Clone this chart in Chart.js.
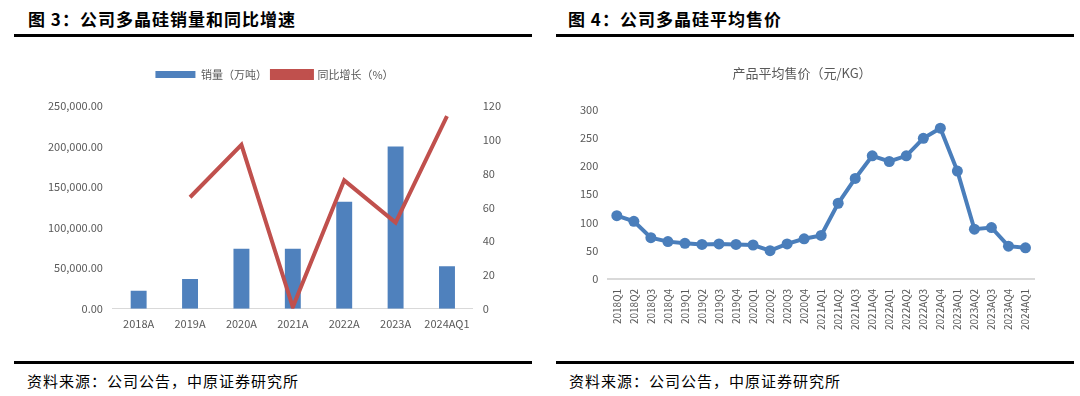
<!DOCTYPE html>
<html>
<head>
<meta charset="utf-8">
<script src="https://cdn.jsdelivr.net/npm/chart.js@4"></script>
<style>
  body { margin: 0; width: 1080px; height: 396px; background: #fff; position: relative; overflow: hidden;
         font-family: "Noto Sans CJK SC", "Noto Sans", sans-serif; }
  .head { position: absolute; top: 6px; font-size: 17px; font-weight: bold; color: #000; letter-spacing: 1px; }
  .rule { position: absolute; height: 3px; background: #000; }
  .foot { position: absolute; top: 370px; font-size: 15px; color: #000; letter-spacing: 1px; }
  .box { position: absolute; }
</style>
</head>
<body>
<div class="head" style="left:28px">图 3：公司多晶硅销量和同比增速</div>
<div class="rule" style="left:14px;width:518px;top:34px"></div>
<div class="head" style="left:568px">图 4：公司多晶硅平均售价</div>
<div class="rule" style="left:556px;width:518px;top:34px"></div>

<div class="box" style="left:14px;top:56px;width:519px;height:290px"><canvas id="sales-chart"></canvas></div>
<div class="box" style="left:556px;top:56px;width:518px;height:284px"><canvas id="price-chart"></canvas></div>

<div class="rule" style="left:14px;width:518px;top:361px"></div>
<div class="rule" style="left:556px;width:518px;top:361px"></div>
<div class="foot" style="left:27px">资料来源：公司公告，中原证券研究所</div>
<div class="foot" style="left:569px">资料来源：公司公告，中原证券研究所</div>

<script>
var years = ['2018A', '2019A', '2020A', '2021A', '2022A', '2023A', '2024AQ1'];
var salesVolume = [22200, 36800, 74000, 74000, 132000, 200000, 52600];
var yoyGrowth = [null, 66, 97, 1, 76, 51, 114];
var volumeTicks = [0, 50000, 100000, 150000, 200000, 250000];
var growthTicks = [0, 20, 40, 60, 80, 100, 120];

var quarters = ['2018Q1', '2018Q2', '2018Q3', '2018Q4', '2019Q1', '2019Q2', '2019Q3', '2019Q4',
  '2020Q1', '2020Q2', '2020Q3', '2020Q4', '2021AQ1', '2021AQ2', '2021AQ3', '2021AQ4',
  '2022AQ1', '2022AQ2', '2022AQ3', '2022AQ4', '2023AQ1', '2023AQ2', '2023AQ3', '2023AQ4', '2024AQ1'];
var avgPrice = [112, 102, 73, 66, 63, 61, 62, 61, 60, 50, 62, 71, 77, 134, 178, 218, 208, 218, 249, 267, 191, 88, 91, 58, 55];
var priceTicks = [0, 50, 100, 150, 200, 250, 300];

Chart.defaults.font.family = '"Noto Sans CJK SC", "Noto Sans", sans-serif';
Chart.defaults.color = '#595959';
Chart.defaults.animation = false;

// extra space under the legend
var legendGap = {
  id: 'legendGap',
  beforeInit: function (chart) {
    var fit = chart.legend.fit;
    chart.legend.fit = function () {
      fit.bind(chart.legend)();
      this.height += 16;
    };
  }
};

var ctx1 = document.querySelector('#sales-chart').getContext('2d');
var chart1 = new Chart(ctx1, {
  type: 'bar',
  data: {
    labels: years,
    datasets: [{
      label: '销量（万吨）',
      data: salesVolume,
      backgroundColor: 'rgb(79, 129, 189)',
      barPercentage: 0.31,
      categoryPercentage: 1,
      yAxisID: 'y',
      order: 2
    }, {
      type: 'line',
      label: '同比增长（%）',
      data: yoyGrowth,
      borderColor: 'rgb(192, 80, 77)',
      backgroundColor: 'rgb(192, 80, 77)',
      borderWidth: 4,
      pointRadius: 0,
      tension: 0,
      yAxisID: 'y1',
      order: 1
    }]
  },
  plugins: [legendGap],
  options: {
    responsive: true,
    maintainAspectRatio: false,
    layout: { padding: { left: 24, right: 22, top: 8, bottom: 8 } },
    plugins: {
      legend: {
        labels: {
          boxWidth: 40, boxHeight: 7, font: { size: 11 }, padding: 5,
          sort: function (a, b) { return a.datasetIndex - b.datasetIndex; }
        }
      },
      tooltip: { enabled: false }
    },
    scales: {
      x: {
        grid: { display: false, drawTicks: false },
        border: { color: '#d9d9d9', width: 1 },
        ticks: { font: { size: 11 }, padding: 8 }
      },
      y: {
        position: 'left',
        min: 0, max: 250000,
        afterBuildTicks: function (axis) { axis.ticks = volumeTicks.map(function (v) { return { value: v }; }); },
        grid: { display: false, drawTicks: false },
        border: { display: false },
        ticks: {
          font: { size: 11 }, padding: 10,
          callback: function (v) { return v.toLocaleString('en-US', { minimumFractionDigits: 2, maximumFractionDigits: 2 }); }
        }
      },
      y1: {
        position: 'right',
        min: 0, max: 120,
        afterBuildTicks: function (axis) { axis.ticks = growthTicks.map(function (v) { return { value: v }; }); },
        grid: { display: false, drawTicks: false },
        border: { display: false },
        ticks: { font: { size: 11 }, padding: 10 }
      }
    }
  }
});

var ctx2 = document.querySelector('#price-chart').getContext('2d');
var chart2 = new Chart(ctx2, {
  type: 'line',
  data: {
    labels: quarters,
    datasets: [{
      label: '产品平均售价（元/KG）',
      data: avgPrice,
      borderColor: 'rgb(74, 126, 187)',
      backgroundColor: 'rgb(74, 126, 187)',
      borderWidth: 4,
      pointRadius: 5.5,
      pointBorderWidth: 0,
      tension: 0
    }]
  },
  options: {
    responsive: true,
    maintainAspectRatio: false,
    layout: { padding: { left: 14, right: 40, top: 4, bottom: 0 } },
    plugins: {
      legend: { display: false },
      title: {
        display: true,
        text: '产品平均售价（元/KG）',
        font: { size: 13, weight: 'normal' },
        color: '#595959',
        padding: { top: 5, bottom: 29 }
      },
      tooltip: { enabled: false }
    },
    scales: {
      x: {
        offset: true,
        grid: { display: false, drawTicks: false },
        border: { color: '#d9d9d9', width: 2 },
        ticks: { font: { size: 10 }, minRotation: 90, maxRotation: 90, padding: 10, autoSkip: false }
      },
      y: {
        min: 0, max: 300,
        afterBuildTicks: function (axis) { axis.ticks = priceTicks.map(function (v) { return { value: v }; }); },
        grid: { display: false, drawTicks: false },
        border: { display: false },
        ticks: { font: { size: 11 }, padding: 10 }
      }
    }
  }
});
</script>
</body>
</html>
